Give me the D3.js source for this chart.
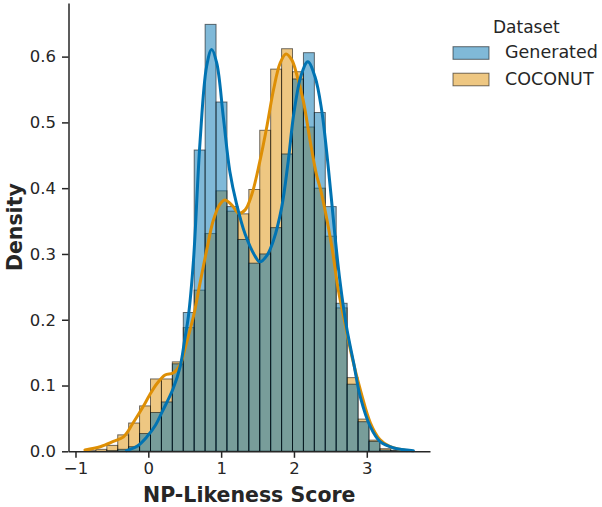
<!DOCTYPE html>
<html>
<head>
<meta charset="utf-8">
<script src="https://cdn.jsdelivr.net/npm/d3@7"></script>
<style>
  html, body { margin: 0; padding: 0; background: #fff; }
  svg { display: block; font-family: "DejaVu Sans", sans-serif; }
</style>
</head>
<body>
<div id="chart"></div>
<script>
// Histogram bins shared by both datasets (common bins)
const BIN_START = -0.87;
const BIN_WIDTH = 0.15;

// Density per bin
const generatedDensity = [0, 0, 0.001, 0.003, 0.007, 0.027, 0.059, 0.075, 0.133, 0.211,
  0.458, 0.649, 0.531, 0.372, 0.322, 0.286, 0.300, 0.340, 0.452, 0.566,
  0.606, 0.515, 0.372, 0.225, 0.102, 0.045, 0.015, 0.002, 0.001, 0.001];
const coconutDensity = [0.001, 0.003, 0.009, 0.025, 0.043, 0.069, 0.110, 0.110, 0.136, 0.188,
  0.245, 0.331, 0.396, 0.365, 0.361, 0.398, 0.488, 0.581, 0.612, 0.577,
  0.493, 0.400, 0.327, 0.218, 0.112, 0.049, 0.017, 0.004, 0.001, 0];

// KDE curves [score, density]
const generatedKde = [
  [-0.30, 0.001], [-0.15, 0.008], [-0.02, 0.022], [0.10, 0.040], [0.19, 0.060],
  [0.34, 0.095], [0.44, 0.130], [0.50, 0.170], [0.55, 0.205], [0.62, 0.290],
  [0.71, 0.470], [0.80, 0.585], [0.87, 0.611], [0.94, 0.590], [1.03, 0.508],
  [1.12, 0.425], [1.21, 0.377], [1.33, 0.330], [1.47, 0.296], [1.53, 0.288],
  [1.63, 0.298], [1.72, 0.321], [1.83, 0.370], [1.92, 0.440], [2.00, 0.515],
  [2.10, 0.572], [2.19, 0.592], [2.29, 0.569], [2.38, 0.519], [2.47, 0.433],
  [2.56, 0.331], [2.63, 0.260], [2.72, 0.190], [2.82, 0.134], [2.91, 0.083],
  [3.05, 0.037], [3.18, 0.015], [3.37, 0.005], [3.64, 0.001]
];
const coconutKde = [
  [-0.87, 0.002], [-0.66, 0.007], [-0.48, 0.015], [-0.34, 0.022], [-0.21, 0.043],
  [-0.07, 0.068], [0.02, 0.086], [0.12, 0.103], [0.23, 0.116], [0.34, 0.119],
  [0.44, 0.132], [0.50, 0.155], [0.62, 0.205], [0.70, 0.250], [0.80, 0.305],
  [0.89, 0.350], [0.98, 0.375], [1.05, 0.382], [1.15, 0.374], [1.24, 0.362],
  [1.33, 0.367], [1.42, 0.390], [1.53, 0.440], [1.63, 0.495], [1.72, 0.550],
  [1.81, 0.590], [1.89, 0.604], [1.97, 0.595], [2.04, 0.572], [2.13, 0.532],
  [2.22, 0.473], [2.31, 0.420], [2.36, 0.400], [2.43, 0.365], [2.52, 0.311],
  [2.61, 0.245], [2.70, 0.195], [2.80, 0.142], [2.92, 0.090], [3.05, 0.043],
  [3.18, 0.018], [3.32, 0.007], [3.45, 0.003], [3.55, 0.001]
];

const X_TICKS = [-1, 0, 1, 2, 3];
const Y_TICKS = [0, 0.1, 0.2, 0.3, 0.4, 0.5, 0.6];
const X_DOMAIN = [-1.096, 3.868];
const Y_DOMAIN = [0, 0.6815];

const series = [
  { name: "Generated", color: "#0173b2", bars: generatedDensity, kde: generatedKde },
  { name: "COCONUT", color: "#de8f05", bars: coconutDensity, kde: coconutKde },
];

const W = 602, H = 507;
const margin = { top: 3, right: 172, bottom: 56, left: 68.5 };
const textColor = "#262626";

const svg = d3.select("#chart").append("svg")
  .attr("width", W)
  .attr("height", H);

const x = d3.scaleLinear().domain(X_DOMAIN).range([margin.left, W - margin.right]);
const y = d3.scaleLinear().domain(Y_DOMAIN).range([H - margin.bottom + 0.3, margin.top]);

// bars: COCONUT first so Generated sits on top, like seaborn draws hue levels
const drawOrder = series.slice().reverse();
for (const s of drawOrder) {
  svg.append("g")
    .selectAll("rect")
    .data(s.bars.map((v, i) => ({ i, v })).filter((d) => d.v > 0))
    .join("rect")
    .attr("x", (d) => x(BIN_START + d.i * BIN_WIDTH))
    .attr("width", (d) => x(BIN_START + (d.i + 1) * BIN_WIDTH) - x(BIN_START + d.i * BIN_WIDTH))
    .attr("y", (d) => y(d.v))
    .attr("height", (d) => y(0) - y(d.v))
    .attr("fill", s.color)
    .attr("fill-opacity", 0.5)
    .attr("stroke", "#000")
    .attr("stroke-opacity", 0.55)
    .attr("stroke-width", 1);
}

const line = d3.line()
  .x((d) => x(d[0]))
  .y((d) => y(d[1]))
  .curve(d3.curveCatmullRom.alpha(0.5));

for (const s of drawOrder) {
  svg.append("path")
    .datum(s.kde)
    .attr("d", line)
    .attr("fill", "none")
    .attr("stroke", s.color)
    .attr("stroke-width", 3)
    .attr("stroke-linejoin", "round")
    .attr("stroke-linecap", "round");
}

// axes
const xAxis = svg.append("g")
  .attr("transform", `translate(0,${y(0)})`)
  .call(d3.axisBottom(x).tickValues(X_TICKS).tickFormat(d3.format("d")).tickSize(6.5).tickSizeOuter(0).tickPadding(4));
const yAxis = svg.append("g")
  .attr("transform", `translate(${margin.left},0)`)
  .call(d3.axisLeft(y).tickValues(Y_TICKS).tickFormat(d3.format(".1f")).tickSize(6.5).tickSizeOuter(0).tickPadding(6));

for (const ax of [xAxis, yAxis]) {
  ax.select(".domain").attr("stroke", textColor).attr("stroke-width", 1.5);
  ax.selectAll(".tick line").attr("stroke", textColor).attr("stroke-width", 1.5);
  ax.selectAll(".tick text")
    .attr("fill", textColor)
    .style("font-family", "DejaVu Sans")
    .style("font-size", "16.5px");
}

svg.append("text")
  .attr("x", (margin.left + W - margin.right) / 2)
  .attr("y", 502)
  .attr("text-anchor", "middle")
  .attr("fill", textColor)
  .style("font-size", "20.5px")
  .style("font-weight", "bold")
  .text("NP-Likeness Score");

svg.append("text")
  .attr("transform", `translate(22,${(margin.top + y(0)) / 2}) rotate(-90)`)
  .attr("text-anchor", "middle")
  .attr("fill", textColor)
  .style("font-size", "20.5px")
  .style("font-weight", "bold")
  .text("Density");

// legend
const legend = svg.append("g").attr("transform", "translate(453,0)");
legend.append("text")
  .attr("x", 40)
  .attr("y", 33)
  .attr("fill", textColor)
  .style("font-size", "17px")
  .text("Dataset");

const items = legend.selectAll("g.item")
  .data(series)
  .join("g")
  .attr("class", "item")
  .attr("transform", (d, i) => `translate(0,${46.7 + i * 26.5})`);
items.append("rect")
  .attr("width", 36)
  .attr("height", 12.6)
  .attr("fill", (d) => d.color)
  .attr("fill-opacity", 0.5)
  .attr("stroke", "#000")
  .attr("stroke-opacity", 0.55)
  .attr("stroke-width", 1);
items.append("text")
  .attr("x", 52)
  .attr("y", 11.5)
  .attr("fill", textColor)
  .style("font-size", "17.5px")
  .text((d) => d.name);
</script>
</body>
</html>
